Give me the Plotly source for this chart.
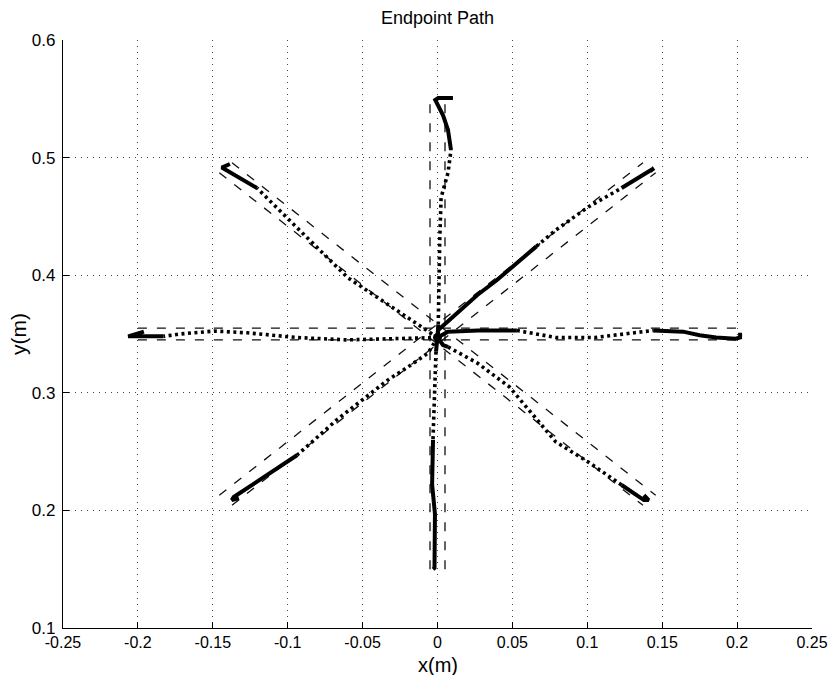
import plotly.graph_objects as go

# ---- reach paths (x, y in metres); style per segment: S = slow/solid, D = fast/dotted ----
up_x = [0.000, 0.0005, 0.001, 0.0015, 0.0024, 0.007, 0.009, 0.007, 0.0037, 0.0005, -0.0015, 0.0005, 0.0103]
up_y = [0.347, 0.358, 0.400, 0.430, 0.466, 0.487, 0.5065, 0.5235, 0.536, 0.5447, 0.549, 0.5507, 0.5507]
up_s = "SDDDDDSSSSSS"

down_x = [0.000, -0.001, -0.002, -0.003, -0.0036, -0.0017, -0.002, -0.003]
down_y = [0.347, 0.335, 0.300, 0.260, 0.222, 0.197, 0.151, 0.150]
down_s = "SDDSSSS"

right_x = [0.000, 0.007, 0.027, 0.053, 0.079, 0.105, 0.131, 0.144, 0.164, 0.175, 0.186, 0.199, 0.202, 0.202]
right_y = [0.347, 0.352, 0.353, 0.353, 0.347, 0.347, 0.351, 0.353, 0.352, 0.349, 0.347, 0.346, 0.347, 0.351]
right_s = "SSSDDDDSSSSSS"

left_x = [0.000, -0.026, -0.060, -0.094, -0.127, -0.149, -0.172, -0.183, -0.1945, -0.2065, -0.196]
left_y = [0.347, 0.346, 0.345, 0.347, 0.351, 0.3525, 0.350, 0.348, 0.348, 0.348, 0.352]
left_s = "DDDDDDDSSS"

ul_x = [0.000, -0.025, -0.060, -0.0956, -0.1205, -0.134, -0.144, -0.1386]
ul_y = [0.347, 0.368, 0.398, 0.4427, 0.4741, 0.4844, 0.4915, 0.4946]
ul_s = "DDDDSSS"

ur_x = [0.000, 0.0005, 0.0266, 0.0397, 0.066, 0.079, 0.1006, 0.1229, 0.1423, 0.1445, 0.142]
ur_y = [0.347, 0.3534, 0.3832, 0.3959, 0.4245, 0.4384, 0.458, 0.4741, 0.4895, 0.491, 0.4885]
ur_s = "SSSSDDDSSS"

lr_x = [0.000, 0.0037, 0.007, 0.0266, 0.048, 0.079, 0.1006, 0.1229, 0.1378, 0.141, 0.1378]
lr_y = [0.347, 0.3406, 0.339, 0.3253, 0.305, 0.2582, 0.2412, 0.2216, 0.2088, 0.2088, 0.213]
lr_s = "SSDDDDDSSS"

ll_x = [0.000, -0.0063, -0.0197, -0.033, -0.0668, -0.0936, -0.1292, -0.136, -0.1373, -0.1326]
ll_y = [0.347, 0.3338, 0.322, 0.311, 0.2775, 0.2471, 0.2173, 0.2114, 0.2088, 0.2105]
ll_s = "DDDDDSSSS"

# ---- target layout ----
center = (0.0, 0.35)
radius = 0.2
half_width = 0.005      # corridor half width
diag_half_width = 0.006

x_ticks = [-0.25, -0.2, -0.15, -0.1, -0.05, 0, 0.05, 0.1, 0.15, 0.2, 0.25]
x_tick_text = ["-0.25", "-0.2", "-0.15", "-0.1", "-0.05", "0", "0.05", "0.1", "0.15", "0.2", "0.25"]
y_ticks = [0.1, 0.2, 0.3, 0.4, 0.5, 0.6]
y_tick_text = ["0.1", "0.2", "0.3", "0.4", "0.5", "0.6"]

FONT = "Liberation Sans, Arial, Helvetica, sans-serif"

fig = go.Figure()

# corridor boundaries (dashed)
cx, cy = center
d = radius / 2 ** 0.5
corridors = [
    # vertical pair
    ([cx - half_width, cx - half_width], [cy - radius, cy + radius]),
    ([cx + half_width, cx + half_width], [cy - radius, cy + radius]),
    # horizontal pair
    ([cx - radius, cx + radius], [cy - half_width, cy - half_width]),
    ([cx - radius, cx + radius], [cy + half_width, cy + half_width]),
]
o = diag_half_width / 2 ** 0.5
# diagonal lower-left -> upper-right
corridors.append(([cx - d - o, cx + d - o], [cy - d + o, cy + d + o]))
corridors.append(([cx - d + o, cx + d + o], [cy - d - o, cy + d - o]))
# diagonal upper-left -> lower-right
corridors.append(([cx - d - o, cx + d - o], [cy + d - o, cy - d - o]))
corridors.append(([cx - d + o, cx + d + o], [cy + d + o, cy - d + o]))

for xs, ys in corridors:
    fig.add_trace(go.Scatter(x=xs, y=ys, mode="lines",
                             line=dict(color="#111111", width=1.3, dash="9px,10px"),
                             hoverinfo="skip", showlegend=False))


def add_path(xs, ys, styles):
    """Split a reach into runs of equal style and draw each run."""
    i = 0
    n = len(styles)
    while i < n:
        j = i
        while j < n and styles[j] == styles[i]:
            j += 1
        seg_x = xs[i:j + 1]
        seg_y = ys[i:j + 1]
        if styles[i] == "S":
            line = dict(color="black", width=4)
        else:
            line = dict(color="black", width=3.6, dash="3px,3.5px")
        fig.add_trace(go.Scatter(x=seg_x, y=seg_y, mode="lines", line=line,
                                 hoverinfo="skip", showlegend=False))
        i = j


for px, py, ps in [(up_x, up_y, up_s), (down_x, down_y, down_s),
                   (right_x, right_y, right_s), (left_x, left_y, left_s),
                   (ul_x, ul_y, ul_s), (ur_x, ur_y, ur_s),
                   (lr_x, lr_y, lr_s), (ll_x, ll_y, ll_s)]:
    add_path(px, py, ps)

# common start point of all reaches
fig.add_trace(go.Scatter(x=[up_x[0]], y=[up_y[0]], mode="markers",
                         marker=dict(color="black", size=9),
                         hoverinfo="skip", showlegend=False))

axis_common = dict(
    showline=True, linecolor="black", linewidth=1.3, mirror=False,
    ticks="inside", ticklen=6, tickwidth=1.2, tickcolor="black",
    showgrid=True, gridcolor="#444444", gridwidth=1, griddash="1px,5px",
    zeroline=False,
)

fig.update_xaxes(range=[-0.25, 0.25], tickvals=x_ticks, ticktext=x_tick_text,
                 ticklabelstandoff=0, tickfont=dict(family=FONT, size=16, color="black"),
                 **axis_common)
fig.update_yaxes(range=[0.1, 0.6], tickvals=y_ticks, ticktext=y_tick_text,
                 ticklabelstandoff=3, tickfont=dict(family=FONT, size=17, color="black"),
                 **axis_common)

fig.update_layout(
    width=840, height=675,
    margin=dict(l=63, r=18, t=40, b=47),
    paper_bgcolor="white", plot_bgcolor="white",
    font=dict(family=FONT, color="black"),
    annotations=[
        dict(text="Endpoint Path", xref="paper", yref="paper", x=0.5, y=1,
             yshift=22, showarrow=False, yanchor="middle",
             font=dict(family=FONT, size=18, color="black")),
        dict(text="x(m)", xref="paper", yref="paper", x=0.5, y=0,
             yshift=-37, showarrow=False, yanchor="middle",
             font=dict(family=FONT, size=20, color="black")),
        dict(text="y(m)", xref="paper", yref="paper", x=0, y=0.5,
             xshift=-45, showarrow=False, xanchor="center", textangle=-90,
             font=dict(family=FONT, size=21, color="black")),
    ],
)

fig.write_html("out.html")
